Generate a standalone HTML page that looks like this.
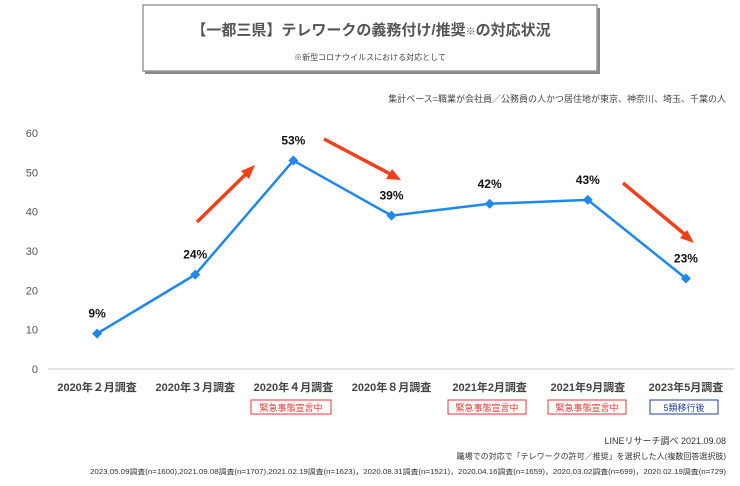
<!DOCTYPE html>
<html><head><meta charset="utf-8"><style>
body{margin:0;background:#fff;font-family:"Liberation Sans","Noto Sans CJK JP",sans-serif;}
svg text{font-family:"Liberation Sans","Noto Sans CJK JP",sans-serif;}
</style></head><body>
<svg id="c" width="740" height="481" viewBox="0 0 740 481">
<rect x="145" y="8" width="455" height="66" fill="#888"/>
<rect x="143" y="5" width="454" height="66" fill="#fff" stroke="#999" stroke-width="1.5"/>
<text x="371" y="35" text-anchor="middle" font-size="15" font-weight="bold" fill="#555">【一都三県】テレワークの義務付け/推奨<tspan font-size="10">※</tspan>の対応状況</text>
<text x="370" y="60" text-anchor="middle" font-size="8" fill="#444">※新型コロナウイルスにおける対応として</text>
<text x="726" y="102" text-anchor="end" font-size="9" fill="#444">集計ベース=職業が会社員／公務員の人かつ居住地が東京、神奈川、埼玉、千葉の人</text>
<g id="axes"></g><g id="marks"></g>
<g fill="none" stroke="#f0401a" stroke-width="3.5">
<line x1="197" y1="222" x2="248" y2="172"/><line x1="324" y1="139" x2="394" y2="176"/><line x1="623" y1="183" x2="688" y2="237"/>
</g>
<g fill="#f0401a">
<polygon points="255,165 241,171 249,179"/><polygon points="401,180 386,179 392,169"/><polygon points="694,243 680,238 687,230"/>
</g>
<g font-size="9" fill="#e33">
<rect x="251" y="400" width="80" height="14" fill="#fff" stroke="#e33"/><text x="291" y="411" text-anchor="middle">緊急事態宣言中</text>
<rect x="448" y="400" width="78" height="14" fill="#fff" stroke="#e33"/><text x="487" y="411" text-anchor="middle">緊急事態宣言中</text>
<rect x="548" y="400" width="78" height="14" fill="#fff" stroke="#e33"/><text x="587" y="411" text-anchor="middle">緊急事態宣言中</text>
<rect x="650" y="400" width="68" height="14" fill="#fff" stroke="#1f3ea0"/><text x="684" y="411" text-anchor="middle" fill="#1f3ea0">5類移行後</text>
</g>
<text x="726" y="444" text-anchor="end" font-size="9" fill="#333">LINEリサーチ調べ 2021.09.08</text>
<text x="726" y="459" text-anchor="end" font-size="8" fill="#333">職場での対応で「テレワークの許可／推奨」を選択した人(複数回答選択肢)</text>
<text x="90" y="474" font-size="7" fill="#333" textLength="636" lengthAdjust="spacingAndGlyphs">2023.05.09調査(n=1600),2021.09.08調査(n=1707),2021.02.19調査(n=1623)，2020.08.31調査(n=1521)，2020.04.16調査(n=1659)，2020.03.02調査(n=699)，2020.02.19調査(n=729)</text>
</svg>
<script>
const categories=["2020年２月調査","2020年３月調査","2020年４月調査","2020年８月調査","2021年2月調査","2021年9月調査","2023年5月調査"];
const values=[9,24,53,39,42,43,23];
const yTicks=[0,10,20,30,40,50,60];
const NS="http://www.w3.org/2000/svg";
const x0=48,x1=735,yb=369,yt=133;
const x=i=>x0+(x1-x0)*(i+0.5)/categories.length;
const y=v=>yb-(v/60)*(yb-yt);
function mk(p,t,a){const e=document.createElementNS(NS,t);for(const k in a)e.setAttribute(k,a[k]);p.appendChild(e);return e;}
const ax=document.getElementById('axes'),mg=document.getElementById('marks');
const base=mk(ax,'line',{x1:x0,x2:x1,y1:yb,y2:yb,stroke:'#ccc'});


yTicks.forEach(t=>{const e=mk(ax,'text',{x:38,y:y(t)+4,'text-anchor':'end','font-size':11,fill:'#555'});e.textContent=t;

});
categories.forEach((c,i)=>{const e=mk(ax,'text',{x:x(i),y:391,'text-anchor':'middle','font-size':11,'font-weight':'bold',fill:'#444'});e.textContent=c;

});
const ln=mk(mg,'polyline',{points:values.map((v,i)=>x(i)+','+y(v)).join(' '),fill:'none',stroke:'#1e88f0','stroke-width':2.5});


values.forEach((v,i)=>{const cx=x(i),cy=y(v);
const p=mk(mg,'polygon',{points:`${cx},${cy-5} ${cx+5},${cy} ${cx},${cy+5} ${cx-5},${cy}`,fill:'#1e88f0'});


const t=mk(mg,'text',{x:cx,y:cy-16,'text-anchor':'middle','font-size':12,'font-weight':'bold',fill:'#111'});t.textContent=v+'%';

});
</script>
</body></html>
